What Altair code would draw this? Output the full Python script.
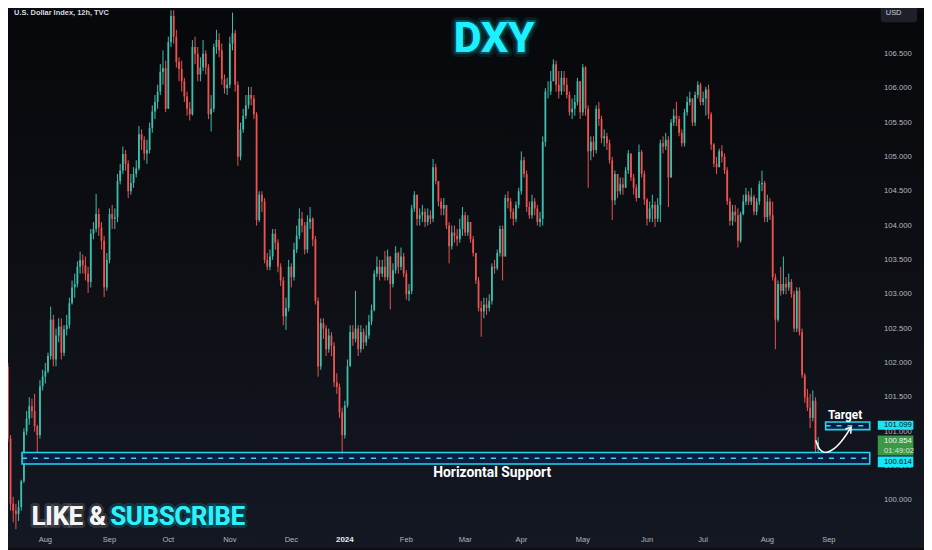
import altair as alt
import pandas as pd
import numpy as np

# ---------------- data (daily candles, U.S. Dollar Index) ----------------
first_open = 101.95
close = [
    100.90, 99.95, 99.85, 99.80, 99.90, 100.28, 101.00, 101.19, 101.37, 101.30,
    101.08, 100.95, 101.66, 101.80, 101.88, 102.10, 102.63, 102.05, 102.40, 102.53,
    102.15, 102.49, 102.55, 102.87, 103.10, 103.15, 103.40, 103.50, 103.42, 103.30,
    103.18, 103.88, 103.95, 104.17, 103.97, 103.78, 103.10, 103.50, 104.17, 104.10,
    104.12, 104.65, 104.80, 105.04, 104.90, 104.50, 104.62, 104.75, 104.83, 105.33,
    105.25, 105.05, 105.10, 105.42, 105.66, 105.80, 105.95, 106.24, 106.29, 105.70,
    106.67, 107.05, 106.75, 106.38, 106.28, 106.10, 105.88, 105.70, 105.62, 106.60,
    106.50, 106.20, 106.30, 106.50, 106.30, 105.62, 105.70, 106.60, 106.70, 106.55,
    106.13, 106.00, 106.05, 106.65, 106.80, 106.05, 105.00, 105.40, 105.60, 105.75,
    105.90, 105.85, 105.62, 104.08, 104.45, 104.35, 103.50, 103.40, 103.55, 103.88,
    103.75, 103.40, 103.20, 102.68, 102.80, 103.40, 103.25, 103.65, 103.85, 104.10,
    104.00, 103.65, 104.05, 104.10, 103.80, 102.90, 101.95, 102.58, 102.50, 102.20,
    102.40, 102.25, 101.72, 101.65, 101.28, 100.95, 101.38, 101.95, 102.45, 102.35,
    102.50, 102.20, 102.45, 102.30, 102.40, 102.60, 102.77, 103.30, 103.40, 103.30,
    103.40, 103.25, 103.55, 103.15, 103.35, 103.60, 103.40, 103.55, 103.30, 103.00,
    103.05, 104.25, 104.45, 104.10, 104.15, 104.20, 104.05, 104.15, 104.10, 104.85,
    104.65, 104.35, 104.25, 104.30, 104.00, 103.70, 103.90, 103.85, 103.80, 103.95,
    104.15, 103.90, 104.05, 103.80, 103.60, 103.20, 102.80, 102.75, 102.85, 102.80,
    102.90, 103.40, 103.38, 103.60, 103.95, 103.55, 104.40, 104.35, 104.20, 104.10,
    104.30, 104.50, 104.95, 104.75, 104.27, 104.15, 104.35, 104.25, 104.05, 104.10,
    105.22, 105.95, 105.95, 106.10, 106.35, 106.05, 105.95, 106.15, 106.05, 105.90,
    105.65, 105.70, 105.80, 106.10, 105.65, 106.30, 105.70, 105.08, 105.22, 105.10,
    105.70, 105.55, 105.27, 105.30, 105.20, 104.95, 104.37, 104.75, 104.50, 104.60,
    104.55, 104.80, 105.05, 104.70, 104.55, 104.40, 105.07, 104.75, 104.38, 104.10,
    104.25, 104.30, 104.10, 104.30, 105.20, 105.15, 105.25, 104.70, 105.50, 105.60,
    105.55, 105.35, 105.20, 105.65, 105.80, 105.85, 105.50, 105.90, 106.05, 105.80,
    105.85, 105.98, 105.62, 105.18, 104.90, 104.85, 105.08, 105.00, 104.80, 104.35,
    104.07, 104.20, 104.15, 103.78, 104.17, 104.35, 104.45, 104.35, 104.42, 104.20,
    104.35, 104.60, 104.62, 104.12, 104.35, 104.15, 103.25, 102.63, 103.15, 103.05,
    103.15, 103.10, 103.18, 103.00, 102.50, 103.05, 102.45, 101.82, 101.50, 101.35,
    101.20, 101.45, 100.75, 100.85,
]
high = [
    102.00, 100.95, 100.05, 99.95, 100.00, 100.30, 101.05, 101.30, 101.50, 101.48,
    101.55, 101.10, 101.75, 101.90, 102.00, 102.15, 102.82, 102.70, 102.50, 102.65,
    102.65, 102.55, 102.70, 102.95, 103.20, 103.30, 103.48, 103.62, 103.58, 103.55,
    103.40, 103.95, 104.05, 104.46, 104.25, 104.05, 103.85, 103.60, 104.25, 104.30,
    104.25, 104.75, 104.90, 105.15, 105.10, 104.95, 104.75, 104.85, 104.95, 105.45,
    105.40, 105.30, 105.25, 105.50, 105.75, 105.90, 106.05, 106.35, 106.55, 106.40,
    106.75, 107.35, 107.20, 106.85, 106.45, 106.40, 106.15, 105.95, 105.80, 106.70,
    106.75, 106.60, 106.45, 106.70, 106.55, 106.35, 105.90, 106.65, 106.85, 106.80,
    106.65, 106.20, 106.15, 106.75, 107.10, 106.85, 106.10, 105.50, 105.70, 105.90,
    106.02, 106.02, 105.90, 105.65, 104.50, 104.50, 104.40, 103.60, 103.65, 103.95,
    103.95, 103.80, 103.45, 103.25, 102.95, 103.50, 103.45, 103.75, 104.00, 104.25,
    104.20, 104.05, 104.15, 104.27, 104.12, 103.85, 102.95, 102.65, 102.65, 102.55,
    102.50, 102.45, 102.30, 101.85, 101.70, 101.35, 101.45, 102.05, 102.55, 102.55,
    103.05, 102.55, 102.55, 102.50, 102.55, 102.70, 102.85, 103.35, 103.55, 103.50,
    103.50, 103.63, 103.65, 103.55, 103.45, 103.70, 103.62, 103.68, 103.60, 103.35,
    103.15, 104.30, 104.50, 104.45, 104.25, 104.30, 104.25, 104.25, 104.22, 104.97,
    104.90, 104.65, 104.40, 104.40, 104.30, 104.05, 104.00, 104.00, 103.95, 104.10,
    104.27, 104.20, 104.15, 104.05, 103.85, 103.60, 103.25, 102.90, 102.95, 102.95,
    103.00, 103.45, 103.50, 103.65, 104.00, 104.00, 104.45, 104.50, 104.40, 104.25,
    104.35, 104.55, 105.08, 105.00, 104.80, 104.35, 104.45, 104.40, 104.30, 104.20,
    105.30, 106.00, 106.10, 106.25, 106.42, 106.40, 106.25, 106.25, 106.25, 106.15,
    105.95, 105.85, 105.90, 106.15, 106.10, 106.35, 106.32, 105.75, 105.30, 105.30,
    105.75, 105.80, 105.60, 105.40, 105.35, 105.25, 105.00, 104.80, 104.75, 104.70,
    104.70, 104.85, 105.10, 105.05, 104.75, 104.60, 105.18, 105.10, 104.80, 104.40,
    104.35, 104.45, 104.35, 104.40, 105.25, 105.30, 105.35, 105.30, 105.55, 105.70,
    105.80, 105.60, 105.40, 105.70, 105.88, 105.95, 105.85, 105.95, 106.10, 106.08,
    105.95, 106.02, 106.05, 105.65, 105.20, 105.00, 105.12, 105.17, 105.05, 104.85,
    104.40, 104.30, 104.30, 104.25, 104.20, 104.45, 104.55, 104.50, 104.55, 104.45,
    104.40, 104.65, 104.80, 104.65, 104.45, 104.40, 104.35, 103.30, 103.20, 103.40,
    103.55, 103.25, 103.30, 103.22, 103.05, 103.10, 103.10, 102.50, 101.85, 101.62,
    101.55, 101.60, 101.50, 100.92,
]
low = [
    100.85, 99.85, 99.68, 99.58, 99.70, 99.85, 100.25, 100.95, 101.10, 101.20,
    101.00, 100.70, 100.90, 101.60, 101.70, 101.85, 102.05, 101.95, 101.95, 102.30,
    102.05, 102.10, 102.40, 102.50, 102.85, 102.95, 103.10, 103.30, 103.30, 103.20,
    103.02, 103.10, 103.80, 103.90, 103.85, 103.65, 102.96, 103.05, 103.45, 103.95,
    103.95, 104.05, 104.60, 104.75, 104.80, 104.40, 104.45, 104.55, 104.70, 104.80,
    105.10, 104.95, 104.90, 105.05, 105.35, 105.55, 105.70, 105.90, 106.05, 105.65,
    105.75, 106.60, 106.65, 106.30, 106.10, 105.95, 105.80, 105.60, 105.53, 105.60,
    106.35, 106.10, 106.10, 106.25, 106.20, 105.55, 105.37, 105.65, 106.50, 106.45,
    106.05, 105.92, 105.90, 106.00, 106.55, 105.95, 104.87, 104.95, 105.35, 105.55,
    105.70, 105.75, 105.55, 104.00, 104.05, 104.20, 103.45, 103.35, 103.35, 103.50,
    103.65, 103.32, 103.12, 102.55, 102.48, 102.75, 103.10, 103.20, 103.60, 103.80,
    103.90, 103.58, 103.60, 103.95, 103.70, 102.85, 101.80, 101.90, 102.35, 102.10,
    102.15, 102.10, 101.65, 101.55, 101.20, 100.65, 100.90, 101.35, 101.95, 102.25,
    102.30, 102.10, 102.15, 102.20, 102.25, 102.35, 102.55, 102.75, 103.25, 103.20,
    103.25, 103.20, 103.20, 102.78, 103.10, 103.30, 103.30, 103.35, 103.25, 102.92,
    102.90, 103.00, 104.20, 104.00, 104.00, 104.05, 103.98, 104.00, 104.02, 104.05,
    104.60, 104.28, 104.15, 104.15, 103.95, 103.45, 103.65, 103.75, 103.70, 103.75,
    103.85, 103.85, 103.85, 103.75, 103.55, 103.15, 102.75, 102.38, 102.65, 102.70,
    102.75, 102.85, 103.30, 103.35, 103.55, 103.20, 103.55, 104.25, 104.10, 104.00,
    104.05, 104.25, 104.45, 104.70, 104.20, 104.10, 104.10, 104.15, 104.00, 103.98,
    104.00, 105.15, 105.85, 105.90, 106.10, 105.95, 105.85, 105.90, 105.95, 105.85,
    105.60, 105.55, 105.60, 105.75, 105.55, 105.60, 105.60, 104.55, 104.95, 105.00,
    105.05, 105.45, 105.20, 105.15, 105.10, 104.90, 104.08, 104.30, 104.40, 104.45,
    104.45, 104.55, 104.75, 104.65, 104.45, 104.35, 104.40, 104.70, 104.30, 104.00,
    104.05, 104.05, 103.98, 104.05, 104.05, 105.05, 105.10, 104.27, 104.70, 105.45,
    105.45, 105.30, 105.15, 105.15, 105.60, 105.75, 105.45, 105.45, 105.85, 105.75,
    105.75, 105.60, 105.55, 105.10, 104.85, 104.75, 104.85, 104.92, 104.75, 104.30,
    104.00, 104.00, 104.05, 103.68, 103.75, 104.15, 104.30, 104.30, 104.30, 104.15,
    104.15, 104.30, 104.50, 104.05, 104.05, 104.08, 103.20, 102.20, 102.60, 102.98,
    103.00, 103.00, 103.05, 102.95, 102.45, 102.45, 102.40, 101.78, 101.42, 101.30,
    101.05, 101.15, 100.70, 100.68,
]

month_index = [14, 38, 60, 83, 106, 126, 149, 171, 192, 215, 239, 260, 284, 307]
month_label = ["Aug", "Sep", "Oct", "Nov", "Dec", "2024", "Feb", "Mar", "Apr", "May", "Jun", "Jul", "Aug", "Sep"]
price_ticks = [100.0, 100.5, 101.0, 101.5, 102.0, 102.5, 103.0, 103.5, 104.0, 104.5, 105.0, 105.5, 106.0, 106.5]

support_price = 100.614
support_band = [100.528, 100.697]
support_span = [5.3, 322.3]
target_price = 101.099
target_band = [101.029, 101.140]
target_span = [305.8, 322.3]
last_price = 100.854
countdown = "01:49:02"
arrow_idx = [302.1, 303.0, 304.4, 306.3, 308.8, 311.4, 313.6, 315.3]
arrow_price = [100.874, 100.769, 100.704, 100.690, 100.740, 100.841, 100.956, 101.065]
arrow_head_idx = [313.4, 315.3, 315.2]
arrow_head_price = [101.043, 101.065, 100.978]

# ---------------- layout constants ----------------
W, H = 924, 542
X = alt.Scale(domain=[1.9, 340.73], nice=False, zero=False)
Y = alt.Scale(domain=[99.311, 107.133], nice=False, zero=False)
label_col = [325.3, 338.6]
label_text_x = 327.6
UP, DOWN = "#3dbfad", "#ef5350"
CYAN = "#18e6f5"
SMALL = "Liberation Sans, Arial, sans-serif"
BIG = "Roboto, sans-serif"


def xq(f):
    return alt.X(f, type="quantitative", scale=X, axis=None)


def yq(f):
    return alt.Y(f, type="quantitative", scale=Y, axis=None)


# ---------------- candles ----------------
n = len(close)
opens = [first_open] + close[:-1]
df = pd.DataFrame({"i": np.arange(n), "o": opens, "c": close, "h": high, "l": low})
df["h"] = df[["h", "o", "c"]].max(axis=1)
df["l"] = df[["l", "o", "c"]].min(axis=1)
df["dir"] = np.where(df["c"] >= df["o"], "up", "down")
ccolor = alt.Color("dir:N", scale=alt.Scale(domain=["up", "down"], range=[UP, DOWN]), legend=None)

wicks = alt.Chart(df).mark_rule(strokeWidth=1, clip=True).encode(
    x=xq("i"), y=yq("l"), y2=alt.Y2("h"), color=ccolor)
bodies = alt.Chart(df).mark_bar(width=1.8, clip=True).encode(
    x=xq("i"), y=yq("o"), y2=alt.Y2("c"), color=ccolor)

# ---------------- background ----------------
bg = alt.Chart(pd.DataFrame({"k": [0]})).mark_rect(
    fill=alt.LinearGradient(
        gradient="linear",
        stops=[alt.GradientStop(color="#07080b", offset=0),
               alt.GradientStop(color="#0e1016", offset=0.55),
               alt.GradientStop(color="#141823", offset=1)],
        x1=0, x2=0, y1=0, y2=1)
).encode(x=alt.value(0), x2=alt.value(W), y=alt.value(0), y2=alt.value(H))

# ---------------- support / target zones ----------------
zones = pd.DataFrame({
    "x1": [support_span[0], target_span[0]], "x2": [support_span[1], target_span[1]],
    "y1": [support_band[0], target_band[0]], "y2": [support_band[1], target_band[1]],
    "ym": [support_price, (target_band[0] + target_band[1]) / 2],
})
zone_rect = alt.Chart(zones).mark_rect(fill="#0c1c48", fillOpacity=0.85, stroke="#1fd8ee", strokeWidth=1.6).encode(
    x=xq("x1"), x2=alt.X2("x2"), y=yq("y1"), y2=alt.Y2("y2"))
zone_dash = alt.Chart(zones).mark_rule(color="#3fd3e8", strokeWidth=1.5, strokeDash=[5, 6]).encode(
    x=xq("x1"), x2=alt.X2("x2"), y=yq("ym"))

# ---------------- arrow ----------------
arrow_df = pd.DataFrame({"k": range(len(arrow_idx)), "i": arrow_idx, "p": arrow_price})
arrow = alt.Chart(arrow_df).mark_line(color="white", strokeWidth=1.5, interpolate="basis").encode(
    x=xq("i"), y=yq("p"), order="k:Q")
head_df = pd.DataFrame({
    "i": [arrow_head_idx[1], arrow_head_idx[1]], "p": [arrow_head_price[1], arrow_head_price[1]],
    "i2": [arrow_head_idx[0], arrow_head_idx[2]], "p2": [arrow_head_price[0], arrow_head_price[2]],
})
head = alt.Chart(head_df).mark_rule(color="white", strokeWidth=1.5, strokeCap="round").encode(
    x=xq("i"), y=yq("p"), x2=alt.X2("i2"), y2=alt.Y2("p2"))

# ---------------- price scale ----------------
pt_df = pd.DataFrame({"p": price_ticks, "t": [f"{p:.3f}" for p in price_ticks], "xi": label_text_x})
price_lbl = alt.Chart(pt_df).mark_text(align="left", baseline="middle", fontSize=7.8, font=SMALL,
                                       color="#b4b7bf").encode(x=xq("xi"), y=yq("p"), text="t:N")

box_df = pd.DataFrame({
    "x1": [label_col[0]] * 3, "x2": [label_col[1]] * 3,
    "y1": [101.029, 100.653, 100.480], "y2": [101.158, 100.942, 100.639],
    "fill": [CYAN, "#3d9846", CYAN],
})
boxes = alt.Chart(box_df).mark_rect().encode(
    x=xq("x1"), x2=alt.X2("x2"), y=yq("y1"), y2=alt.Y2("y2"), color=alt.Color("fill:N", scale=None))
bt_df = pd.DataFrame({
    "xi": [label_text_x] * 4, "p": [101.094, 100.870, 100.722, 100.560],
    "t": [f"{target_price:.3f}", f"{last_price:.3f}", countdown, f"{support_price:.3f}"],
    "col": ["#081014", "#ecf6ec", "#d2ead2", "#081014"],
})
box_txt = alt.Chart(bt_df).mark_text(align="left", baseline="middle", fontSize=7.8, font=SMALL).encode(
    x=xq("xi"), y=yq("p"), text="t:N", color=alt.Color("col:N", scale=None))

usd_df = pd.DataFrame({"x1": [326.4], "x2": [340.0], "y1": [106.96], "y2": [107.22], "tx": [328.3], "ty": [107.09], "t": ["USD"]})
usd_box = alt.Chart(usd_df).mark_rect(fill="#1d2029", cornerRadius=3).encode(
    x=xq("x1"), x2=alt.X2("x2"), y=yq("y1"), y2=alt.Y2("y2"))
usd_txt = alt.Chart(usd_df).mark_text(align="left", baseline="middle", fontSize=7.5, font=SMALL, color="#d1d4dc").encode(
    x=xq("tx"), y=yq("ty"), text="t:N")

# ---------------- time axis ----------------
m_df = pd.DataFrame({"i": month_index, "t": month_label, "p": 99.42})
months = alt.Chart(m_df).transform_filter(alt.datum.t != "2024").mark_text(
    align="center", baseline="middle", fontSize=7.6, font=SMALL, color="#b4b7bf").encode(
    x=xq("i"), y=yq("p"), text="t:N")
year = alt.Chart(m_df).transform_filter(alt.datum.t == "2024").mark_text(
    align="center", baseline="middle", fontSize=8, font=SMALL, fontWeight="bold", color="#e8eaef").encode(
    x=xq("i"), y=yq("p"), text="t:N")

# ---------------- texts ----------------
def txt(i, p, t):
    return alt.Chart(pd.DataFrame({"i": [i], "p": [p], "t": [t]})).encode(x=xq("i"), y=yq("p"), text="t:N")


head_title = txt(2.3, 107.096, "U.S. Dollar Index, 12h, TVC").mark_text(
    align="left", baseline="middle", fontSize=7.5, font=SMALL, color="#d8dbe2", fontWeight=600)

DXY_SIZE = 43
dxy = txt(181.8, 106.707, "DXY")
dxy_glow1 = dxy.mark_text(align="center", baseline="middle", font=BIG, fontSize=DXY_SIZE, fontWeight="bold",
                          fill="#00e5ff", fillOpacity=0.3, stroke="#00e5ff", strokeOpacity=0.10,
                          strokeWidth=10, strokeJoin="round")
dxy_glow2 = dxy.mark_text(align="center", baseline="middle", font=BIG, fontSize=DXY_SIZE, fontWeight="bold",
                          fill="#00e5ff", stroke="#00e5ff", strokeOpacity=0.25, strokeWidth=4, strokeJoin="round")
dxy_main = dxy.mark_text(align="center", baseline="middle", font=BIG, fontSize=DXY_SIZE, fontWeight="bold",
                         color="#1ff0ff")

LS = 25.5
like = txt(8.9, 99.76, "LIKE &")
like_glow = like.mark_text(align="left", baseline="middle", font=BIG, fontSize=LS, fontWeight="bold",
                           fill="#ffffff", stroke="#ffffff", strokeOpacity=0.12, strokeWidth=6, strokeJoin="round")
like_main = like.mark_text(align="left", baseline="middle", font=BIG, fontSize=LS, fontWeight="bold",
                           color="#f4f4f4")
sub = txt(38.4, 99.76, "SUBSCRIBE")
sub_glow = sub.mark_text(align="left", baseline="middle", font=BIG, fontSize=LS, fontWeight="bold",
                         fill="#1ff0ff", stroke="#00e5ff", strokeOpacity=0.18, strokeWidth=6, strokeJoin="round")
sub_main = sub.mark_text(align="left", baseline="middle", font=BIG, fontSize=LS, fontWeight="bold",
                         color="#2ef0fb")

support_txt = txt(181.1, 100.40, "Horizontal Support").mark_text(
    align="center", baseline="middle", font=BIG, fontSize=14, fontWeight="bold", color="#ffffff")
target_txt = txt(313.05, 101.235, "Target").mark_text(
    align="center", baseline="middle", font=BIG, fontSize=12, fontWeight="bold", color="#ffffff")

chart = alt.layer(
    bg, wicks, bodies, zone_rect, zone_dash, arrow, head,
    price_lbl, boxes, box_txt, usd_box, usd_txt, months, year, head_title,
    dxy_glow1, dxy_glow2, dxy_main, like_glow, like_main, sub_glow, sub_main,
    support_txt, target_txt,
).properties(
    width=W, height=H, padding=0, autosize=alt.AutoSizeParams(type="none"), background="#0b0d12"
).configure_view(stroke=None)

chart.save("out.html", embed_options={"renderer": "svg", "actions": False})
